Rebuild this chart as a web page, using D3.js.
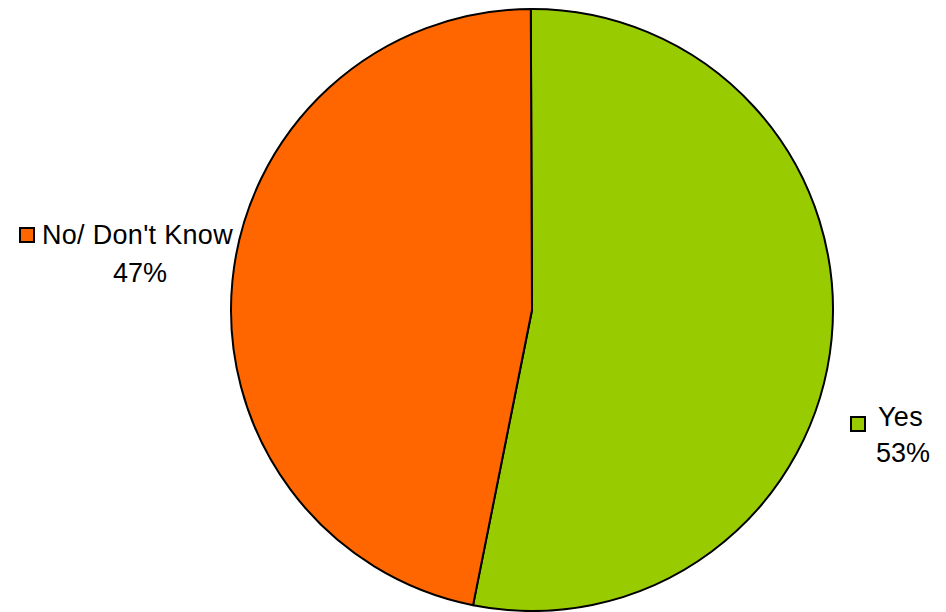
<!DOCTYPE html>
<html><head><meta charset="utf-8">
<script src="https://cdn.jsdelivr.net/npm/d3@7/dist/d3.min.js"></script>
<style>html,body{margin:0;padding:0;background:#fff;}svg{display:block;font-family:"Liberation Sans",Arial,sans-serif;}</style>
</head><body>
<script>
const categories = ["Yes", "No/ Don't Know"];
const values = [53.2, 46.8];
const colors = ["#99CC00", "#FF6600"];
const pctLabels = ["53%", "47%"];

const W = 946, H = 612;
const cx = 532, cy = 310, r = 301;
const svg = d3.select("body").append("svg").attr("width", W).attr("height", H);

const start = -0.004;
const pie = d3.pie().sort(null).startAngle(start).endAngle(2*Math.PI + start);
const arcs = pie(values);
const arc = d3.arc().innerRadius(0).outerRadius(r);
const g = svg.append("g").attr("transform", `translate(${cx},${cy})`);
g.selectAll("path").data(arcs).join("path")
  .attr("d", arc)
  .attr("fill", (d,i) => colors[i])
  .attr("stroke", "#000").attr("stroke-width", 2).attr("stroke-linejoin","round");

// labels
const labelPos = [
  {rx: 851, ry: 417, tx: 878, ty: 426, px: 903, py: 462},
  {rx: 20, ry: 228, tx: 42, ty: 244, px: 140, py: 282}
];
const fs = 27;
categories.forEach((c, i) => {
  const p = labelPos[i];
  svg.append("rect").attr("x", p.rx).attr("y", p.ry).attr("width", 14).attr("height", 14)
    .attr("fill", colors[i]).attr("stroke", "#000").attr("stroke-width", 2);
  svg.append("text").attr("x", p.tx).attr("y", p.ty).attr("font-size", fs)
    .attr("letter-spacing", "0.3px").attr("fill","#000").text(c);
  svg.append("text").attr("x", p.px).attr("y", p.py).attr("font-size", fs)
    .attr("text-anchor","middle").attr("fill","#000").text(pctLabels[i]);
});
</script>
</body></html>
